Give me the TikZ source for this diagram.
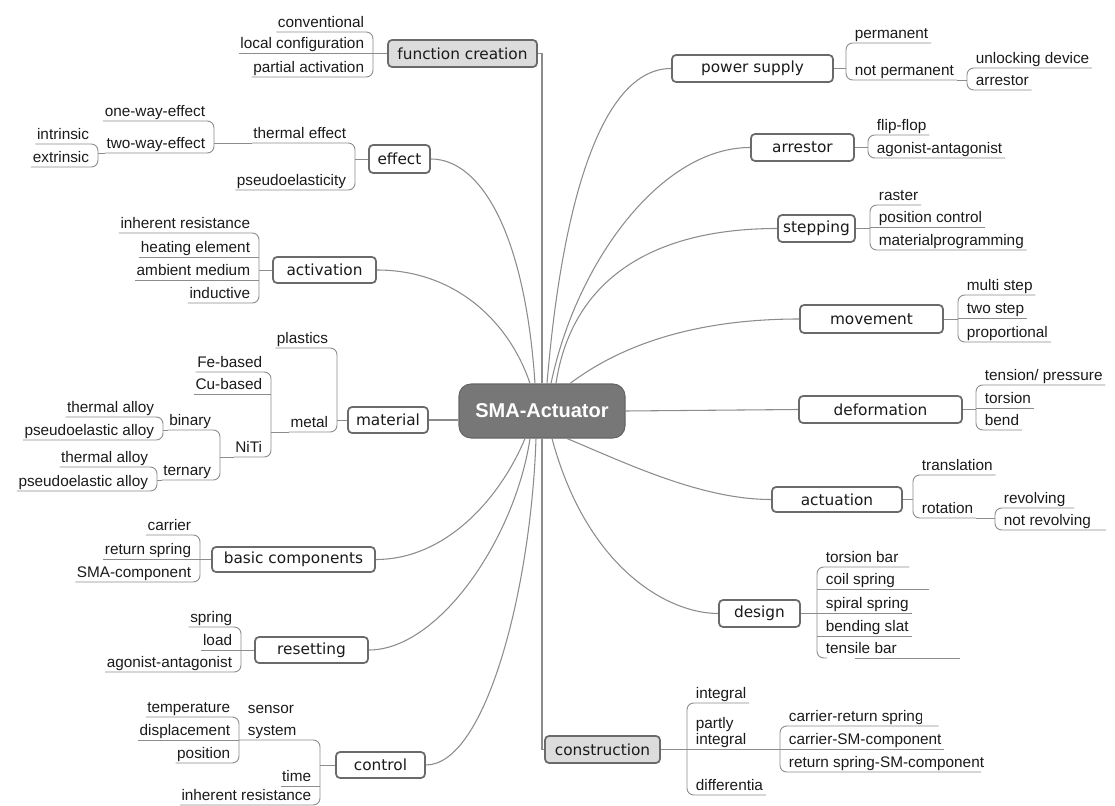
\documentclass[tikz,border=0pt]{standalone}
\usepackage{fontspec}
\setmainfont{Liberation Sans}
\newfontfamily\boxfont{DejaVu Sans}
\usetikzlibrary{calc}

\definecolor{linegray}{HTML}{8C8C8C}
\definecolor{boxgray}{HTML}{6A6A6A}
\definecolor{lightfill}{HTML}{DCDCDC}
\definecolor{centergray}{HTML}{777777}
\definecolor{inkc}{HTML}{1A1A1A}

\tikzset{
  con/.style={draw=linegray, line width=0.8pt},
  ln/.style={draw=linegray, line width=0.7pt},
  brk/.style={ln, rounded corners=5pt},
  box/.style={draw=boxgray, line width=1.3pt, rounded corners=3pt, fill=white,
    inner sep=0pt, text=inkc, font=\boxfont\fontsize{11.5}{13}\selectfont},
  gbox/.style={box, fill=lightfill},
  lbl/.style={inner sep=0pt, text height=8.6pt, text depth=3pt, text=inkc,
    font=\fontsize{11.5}{13}\selectfont},
  lc/.style={lbl, anchor=south east,
    execute at begin node={\hspace*{1pt}}, execute at end node={\hspace*{6.5pt}}},
  rc/.style={lbl, anchor=south west,
    execute at begin node={\hspace*{6.5pt}}, execute at end node={\hspace*{2pt}}},
}

\begin{document}
\begin{tikzpicture}[x=0.75pt, y=-0.75pt]
\useasboundingbox (0,0) rectangle (1115,806);

% ---------- central topic ----------
\node[fill=centergray, draw=centergray!85!black, line width=0.8pt, rounded corners=9pt,
      inner sep=0pt, minimum width=124.5pt, minimum height=40.5pt, text=white,
      font=\bfseries\fontsize{15}{18}\selectfont] (sma) at (542,411) {SMA-Actuator};

% ---------- main topics ----------
\node[gbox, minimum width=111.75pt, minimum height=20.25pt] (fc) at (462.5,53.5) {function creation};
\node[box,  minimum width=45.75pt,  minimum height=21pt]    (ef) at (399.5,159) {effect};
\node[box,  minimum width=77.25pt,  minimum height=19.5pt]  (ac) at (324.5,270) {activation};
\node[box,  minimum width=60pt,     minimum height=19.5pt]  (ma) at (388,420) {material};
\node[box,  minimum width=122.25pt, minimum height=18.75pt] (bc) at (293.5,559.5) {basic components};
\node[box,  minimum width=84.75pt,  minimum height=19.5pt]  (rs) at (311.5,650) {resetting};
\node[box,  minimum width=66.75pt,  minimum height=19.5pt]  (ct) at (380.5,765) {control};

\node[box,  minimum width=120.75pt, minimum height=20.25pt] (ps) at (752.5,68.5) {power supply};
\node[box,  minimum width=77.25pt,  minimum height=20.25pt] (ar) at (802.5,147.5) {arrestor};
\node[box,  minimum width=57.75pt,  minimum height=20.25pt] (st) at (816.5,228.5) {stepping};
\node[box,  minimum width=107.25pt, minimum height=21pt]    (mv) at (871.5,319) {movement};
\node[box,  minimum width=122.25pt, minimum height=20.25pt] (df) at (880.5,409.5) {deformation};
\node[box,  minimum width=97.5pt,   minimum height=18.75pt] (at) at (837,499.5) {actuation};
\node[box,  minimum width=60.75pt,  minimum height=20.25pt] (dg) at (759.5,613.5) {design};
\node[gbox, minimum width=86.25pt,  minimum height=20.25pt] (cs) at (602.5,749.5) {construction};

% ---------- connectors from the central topic ----------
\draw[con] (fc.east) -| (sma.north);
\draw[con] (ef.east) .. controls +(50,0) and +(-10,-150) .. ($(sma.north)+(-7,0)$);
\draw[con] (ac.east) .. controls +(80,0) and +(-20,-60) .. ($(sma.north)+(-12,0)$);
\draw[con] (ma.east) -- (ma.east -| sma.west);
\draw[con] (bc.east) .. controls +(70,0) and +(-25,60) .. ($(sma.south)+(-17,0)$);
\draw[con] (rs.east) .. controls +(70,0) and +(-15,100) .. ($(sma.south)+(-12,0)$);
\draw[con] (ct.east) .. controls +(60,0) and +(-5,150) .. ($(sma.south)+(-6,0)$);

\draw[con] (ps.west) .. controls +(-70,0) and +(15,-180) .. ($(sma.north)+(5,0)$);
\draw[con] (ar.west) .. controls +(-90,0) and +(25,-120) .. ($(sma.north)+(9,0)$);
\draw[con] (st.west) .. controls +(-130,0) and +(15,-100) .. ($(sma.north)+(14,0)$);
\draw[con] (mv.west) .. controls +(-120,0) and +(40,-30) .. ($(sma.north)+(28,0)$);
\draw[con] (sma.east) -- (df.west);
\draw[con] (at.west) .. controls +(-70,0) and +(60,25) .. ($(sma.south)+(25,0)$);
\draw[con] (dg.west) .. controls +(-50,0) and +(35,130) .. ($(sma.south)+(10,0)$);
\draw[con] (sma.south) |- (cs.west);

% ---------- function creation ----------
\node[lc] (fc1) at (373,32) {conventional};
\node[lc] (fc2) at (373,53) {local configuration};
\node[lc] (fc3) at (373,77) {partial activation};
\draw[brk] (fc1.south west) -- (fc1.south east) -- (fc3.south east) -- (fc3.south west);
\draw[ln] (fc2.south west) -- (fc2.south east);
\draw[ln] (fc.west) -- (fc.west -| fc1.south east);

% ---------- effect ----------
\node[lc] (te) at (355,143) {thermal effect};
\node[lc] (pe) at (355,190) {pseudoelasticity};
\draw[brk] (te.south west) -- (te.south east) -- (pe.south east) -- (pe.south west);
\draw[ln] (ef.west) -- (ef.west -| te.south east);
\node[lc] (ow) at (214,121) {one-way-effect};
\node[lc] (tw) at (214,153) {two-way-effect};
\draw[brk] (ow.south west) -- (ow.south east) -- (tw.south east) -- (tw.south west);
\draw[ln] (te.south west) -- (te.south west -| ow.south east);
\node[lc] (ie) at (98,144) {intrinsic};
\node[lc] (ee) at (98,167) {extrinsic};
\draw[brk] (ie.south west) -- (ie.south east) -- (ee.south east) -- (ee.south west);
\draw[ln] (tw.south west) -- (tw.south west -| ie.south east);

% ---------- activation ----------
\node[lc] (ac1) at (259,233) {inherent resistance};
\node[lc] (ac2) at (259,257) {heating element};
\node[lc] (ac3) at (259,280) {ambient medium};
\node[lc] (ac4) at (259,303) {inductive};
\draw[brk] (ac1.south west) -- (ac1.south east) -- (ac4.south east) -- (ac4.south west);
\draw[ln] (ac2.south west) -- (ac2.south east);
\draw[ln] (ac3.south west) -- (ac3.south east);
\draw[ln] (ac.west) -- (ac.west -| ac1.south east);

% ---------- material ----------
\node[lc] (pl) at (337,348) {plastics};
\node[lc] (me) at (337,432) {metal};
\draw[brk] (pl.south west) -- (pl.south east) -- (me.south east) -- (me.south west);
\draw[ln] (ma.west) -- (ma.west -| pl.south east);
\node[lc] (fe) at (271,372) {Fe-based};
\node[lc] (cu) at (271,394) {Cu-based};
\node[lc] (ni) at (271,457) {NiTi};
\draw[brk] (fe.south west) -- (fe.south east) -- (ni.south east) -- (ni.south west);
\draw[ln] (cu.south west) -- (cu.south east);
\draw[ln] (me.south west) -- (me.south west -| fe.south east);
\node[lc] (bi) at (220,430) {binary};
\node[lc] (tn) at (220,480) {ternary};
\draw[brk] (bi.south west) -- (bi.south east) -- (tn.south east) -- (tn.south west);
\draw[ln] (ni.south west) -- (ni.south west -| bi.south east);
\node[lc] (bi1) at (163,417) {thermal alloy};
\node[lc] (bi2) at (163,440) {pseudoelastic alloy};
\draw[brk] (bi1.south west) -- (bi1.south east) -- (bi2.south east) -- (bi2.south west);
\draw[ln] (bi.south west) -- (bi.south west -| bi1.south east);
\node[lc] (tn1) at (157,467) {thermal alloy};
\node[lc] (tn2) at (157,491) {pseudoelastic alloy};
\draw[brk] (tn1.south west) -- (tn1.south east) -- (tn2.south east) -- (tn2.south west);
\draw[ln] (tn.south west) -- (tn.south west -| tn1.south east);

% ---------- basic components ----------
\node[lc] (bc1) at (200,535) {carrier};
\node[lc] (bc2) at (200,559) {return spring};
\node[lc] (bc3) at (200,582) {SMA-component};
\draw[brk] (bc1.south west) -- (bc1.south east) -- (bc3.south east) -- (bc3.south west);
\draw[ln] (bc2.south west) -- (bc2.south east);
\draw[ln] (bc.west) -- (bc.west -| bc1.south east);

% ---------- resetting ----------
\node[lc] (rs1) at (241,627) {spring};
\node[lc] (rs2) at (241,650) {load};
\node[lc] (rs3) at (241,672) {agonist-antagonist};
\draw[brk] (rs1.south west) -- (rs1.south east) -- (rs3.south east) -- (rs3.south west);
\draw[ln] (rs2.south west) -- (rs2.south east);
\draw[ln] (rs.west) -- (rs.west -| rs1.south east);

% ---------- control ----------
\node[lc] (tp) at (239,717) {temperature};
\node[lc] (dp) at (239,740) {displacement};
\node[lc] (po) at (239,763) {position};
\draw[brk] (tp.south west) -- (tp.south east) -- (po.south east) -- (po.south west);
\draw[ln] (dp.south west) -- (dp.south east);
\node[rc] (ss) at (239,740) {\begin{tabular}[b]{@{}l@{}}sensor\\[4pt]system\end{tabular}};
\node[lc] (tm) at (320,786) {time};
\node[lc] (ir) at (320,805) {inherent resistance};
\draw[brk] (ss.south west) -- (ss.south west -| tm.south east) -- (ir.south east) -- (ir.south west);
\draw[ln] (tm.south west) -- (tm.south east);
\draw[ln] (ct.west) -- (ct.west -| tm.south east);

% ---------- power supply ----------
\node[rc] (pm) at (846,43) {permanent};
\node[rc] (np) at (846,80) {not permanent};
\draw[brk] (pm.south east) -- (pm.south west) -- (np.south west) -- (np.south east);
\draw[ln] (ps.east) -- (ps.east -| pm.south west);
\node[rc] (ud) at (967,68) {unlocking device};
\node[rc] (ua) at (967,90) {arrestor};
\draw[brk] (ud.south east) -- (ud.south west) -- (ua.south west) -- (ua.south east);
\draw[ln] (np.south east) -- (np.south east -| ud.south west);

% ---------- arrestor ----------
\node[rc] (ar1) at (868,135) {flip-flop};
\node[rc] (ar2) at (868,158) {agonist-antagonist};
\draw[brk] (ar1.south east) -- (ar1.south west) -- (ar2.south west) -- (ar2.south east);
\draw[ln] (ar.east) -- (ar.east -| ar1.south west);

% ---------- stepping ----------
\node[rc] (st1) at (870,205) {raster};
\node[rc] (st2) at (870,227) {position control};
\node[rc] (st3) at (870,250) {materialprogramming};
\draw[brk] (st1.south east) -- (st1.south west) -- (st3.south west) -- (st3.south east);
\draw[ln] (st2.south west) -- (st2.south east);
\draw[ln] (st.east) -- (st.east -| st1.south west);

% ---------- movement ----------
\node[rc] (mv1) at (958,295) {multi step};
\node[rc] (mv2) at (958,318) {two step};
\node[rc] (mv3) at (958,342) {proportional};
\draw[brk] (mv1.south east) -- (mv1.south west) -- (mv3.south west) -- (mv3.south east);
\draw[ln] (mv2.south west) -- (mv2.south east);
\draw[ln] (mv.east) -- (mv.east -| mv1.south west);

% ---------- deformation ----------
\node[rc] (df1) at (976,385) {tension/ pressure};
\node[rc] (df2) at (976,408) {torsion};
\node[rc] (df3) at (976,430) {bend};
\draw[brk] (df1.south east) -- (df1.south west) -- (df3.south west) -- (df3.south east);
\draw[ln] (df2.south west) -- (df2.south east);
\draw[ln] (df.east) -- (df.east -| df1.south west);

% ---------- actuation ----------
\node[rc] (at1) at (913,475) {translation};
\node[rc] (at2) at (913,518) {rotation};
\draw[brk] (at1.south east) -- (at1.south west) -- (at2.south west) -- (at2.south east);
\draw[ln] (at.east) -- (at.east -| at1.south west);
\node[rc] (rv1) at (995,508) {revolving};
\node[rc] (rv2) at (995,530) {not revolving};
\draw[brk] ($(rv1.south east)+(6,0)$) -- (rv1.south west) -- (rv2.south west) -- ($(rv2.south east)+(12,0)$);
\draw[ln] (at2.south east) -- (at2.south east -| rv1.south west);

% ---------- design ----------
\node[rc] (dg1) at (817,567) {torsion bar};
\node[rc] (dg2) at (817,589) {coil spring};
\node[rc] (dg3) at (817,613) {spiral spring};
\node[rc] (dg4) at (817,636) {bending slat};
\node[rc] (dg5) at (817,658) {tensile bar};
\draw[brk] ($(dg1.south east)+(8,0)$) -- (dg1.south west) -- (dg5.south west) -- ($(dg5.south west)+(10,0)$);
\draw[ln] ($(dg5.south west)+(38,0)$) -- ($(dg5.south west)+(143,0)$);
\draw[ln] (dg2.south west) -- ($(dg2.south west)+(112,0)$);
\draw[ln] (dg3.south west) -- (dg3.south east);
\draw[ln] (dg4.south west) -- (dg4.south east);
\draw[ln] (dg.east) -- (dg.east -| dg1.south west);

% ---------- construction ----------
\node[rc] (cs1) at (687,703) {integral};
\node[rc] (cs2) at (687,749) {\begin{tabular}[b]{@{}l@{}}partly\\[-1pt]integral\end{tabular}};
\node[rc] (cs3) at (687,795) {differentia};
\draw[brk] (cs1.south east) -- (cs1.south west) -- (cs3.south west) -- (cs3.south east);
\draw[ln] (cs.east) -- (cs.east -| cs1.south west);
\begin{scope}
  \clip (780,700) rectangle (921,732);
  \node[rc] (pi1) at (780,726) {carrier-return spring};
\end{scope}
\node[rc] (pi2) at (780,749) {carrier-SM-component};
\begin{scope}
  \clip (780,752) rectangle (983,776);
  \node[rc] (pi3) at (780,772) {return spring-SM-component};
\end{scope}
\draw[brk] ($(pi1.south east)+(12,0)$) -- (pi1.south west) -- (pi3.south west) -- ($(pi3.south east)+(-6,0)$);
\draw[ln] (pi2.south west) -- (pi2.south east);
\draw[ln] (cs2.south west) -- (cs2.south west -| pi1.south west);
\end{tikzpicture}
\end{document}
